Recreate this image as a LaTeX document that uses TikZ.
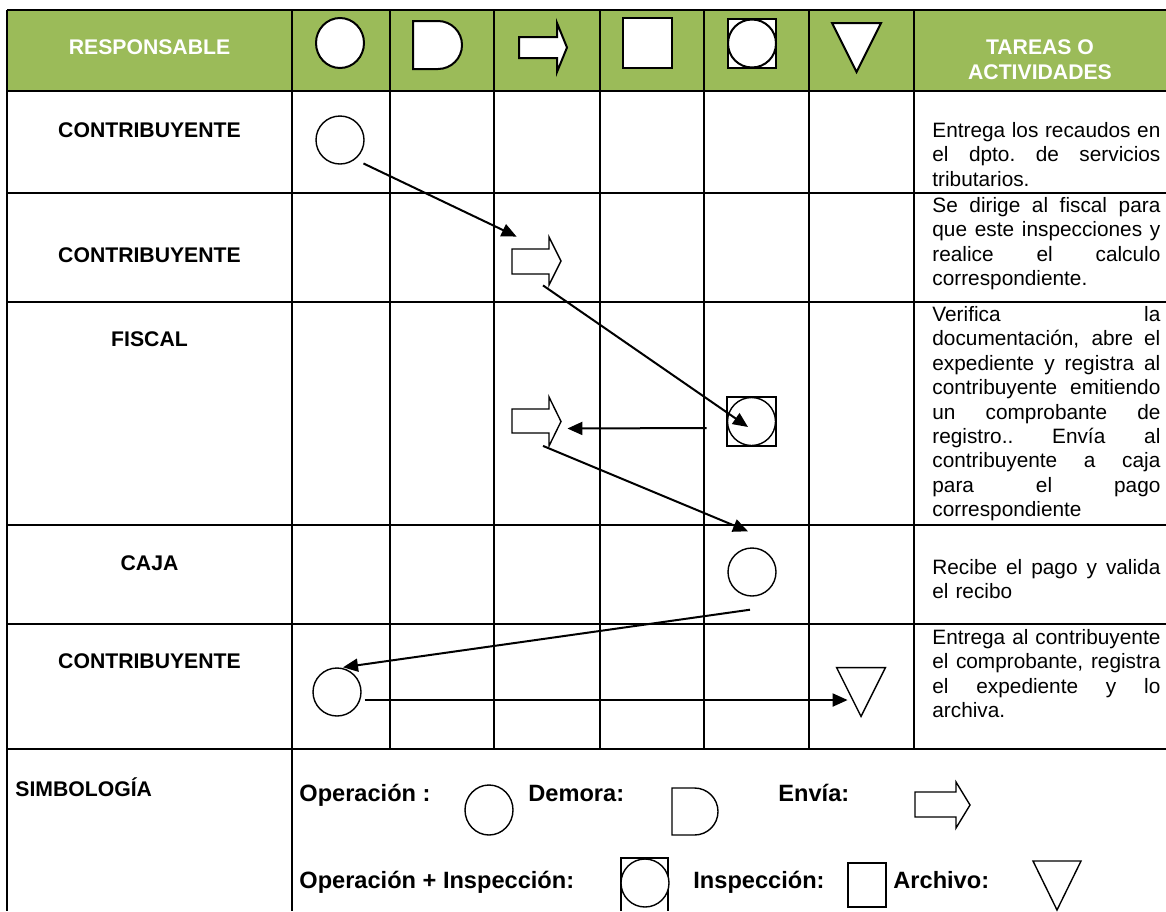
\documentclass[tikz,border=0pt]{standalone}
\usepackage{fontspec}
\setmainfont{Liberation Sans}
\usetikzlibrary{arrows.meta}
\definecolor{verdecab}{HTML}{9BBB59}
% justified line of a task cell
\newcommand{\renglon}[1]{\leavevmode\hbox to 114pt{\spaceskip=0.278em plus 1fil\relax\xspaceskip=\spaceskip #1}}

\begin{document}
\begin{tikzpicture}[x=0.5pt,y=-0.5pt,
  linea/.style={line width=1pt},
  simbolo/.style={line width=0.7pt,fill=white},
  opcirc/.style={circle,draw,line width=0.7pt,fill=white,minimum size=24pt,inner sep=0pt},
  hueco/.style={inner sep=0pt,minimum width=24.5pt,minimum height=24pt},
  flecha/.style={line width=1pt,-{Triangle[length=7.5pt,width=6.5pt]}},
  resp/.style={inner sep=0pt,font=\bfseries\fontsize{10.6}{12.5}\selectfont},
  tarea/.style={anchor=north west,inner sep=0pt,text width=114pt,align=left,font=\fontsize{10.4}{12.2}\selectfont},
  leyenda/.style={anchor=base west,inner sep=0pt,font=\bfseries\fontsize{11.8}{14}\selectfont}]
\useasboundingbox (0,0) rectangle (1166,911);

% Cabecera
\fill[verdecab] (7,10) rectangle (1166,91);

% Tabla
\draw[linea] (7,10) -- (1166,10);
\draw[linea] (7,91) -- (1166,91);
\draw[linea] (7,193) -- (1166,193);
\draw[linea] (7,302) -- (1166,302);
\draw[linea] (7,525) -- (1166,525);
\draw[linea] (7,624) -- (1166,624);
\draw[linea] (7,749) -- (1166,749);
\draw[linea] (7,10) -- (7,911);
\draw[linea] (292,10) -- (292,911);
\draw[linea] (390,10) -- (390,749);
\draw[linea] (494,10) -- (494,749);
\draw[linea] (600,10) -- (600,749);
\draw[linea] (704,10) -- (704,749);
\draw[linea] (809,10) -- (809,749);
\draw[linea] (914,10) -- (914,749);

\node[resp,text=white] (hresp) at (149.5,47) {RESPONSABLE};
\node[resp,text=white,align=center] (htareas) at (1040,59.5) {TAREAS O\\ACTIVIDADES};

% Simbolos de la cabecera
\draw[simbolo,line width=1pt] (340,43) ellipse (12pt and 12.5pt);
\draw[simbolo,line width=1pt] (413,21) -- (438,21) arc[start angle=90,end angle=-90,radius=12pt] -- (413,69) -- cycle;
\draw[simbolo,line width=1pt] (519,37) -- (557,37) -- (557,23) -- (567,47.5) -- (557,72) -- (557,58) -- (519,58) -- cycle;
\draw[simbolo,line width=1pt] (623,18) rectangle (672,68);
\draw[simbolo,line width=1pt] (728,19) rectangle (776,68);
\draw[simbolo,line width=1pt] (752,43.5) circle (12pt);
\draw[simbolo,line width=1pt] (832,23) -- (881,23) -- (856.5,72) -- cycle;

% Responsables
\node[resp] (r1) at (149.5,130) {CONTRIBUYENTE};
\node[resp] (r2) at (149.5,255) {CONTRIBUYENTE};
\node[resp] (r3) at (149.5,339) {FISCAL};
\node[resp] (r4) at (149.5,563) {CAJA};
\node[resp] (r5) at (149.5,661) {CONTRIBUYENTE};
\node[resp,anchor=base west] (simb) at (15,796) {SIMBOLOGÍA};

% Recorrido
\node[opcirc] (op1) at (340,140) {};
\node[hueco] (send1) at (536.5,261) {};
\draw[simbolo] (512,249) -- (549,249) -- (549,237) -- (561,261) -- (549,285) -- (549,274) -- (512,274) -- cycle;
\node[hueco,minimum height=24.5pt] (opinsp) at (751.5,421.5) {};
\draw[simbolo] (727,397) rectangle (776,446);
\draw[simbolo] (opinsp.center) circle (12pt);
\node[hueco] (send2) at (536.5,421.5) {};
\draw[simbolo] (512,409) -- (549,409) -- (549,397) -- (561,421.5) -- (549,446) -- (549,433) -- (512,433) -- cycle;
\node[opcirc] (op2) at (752,572) {};
\node[opcirc] (op3) at (337,692) {};
\node[hueco,minimum width=24pt] (arch) at (861,692) {};
\draw[simbolo] (arch.north west) -- (arch.north east) -- (arch.south) -- cycle;

% Flechas
\draw[flecha] ([shift={(3pt,-3pt)}]op1.south east) -- ([xshift=2.5pt]send1.north west);
\draw[flecha] ([xshift=3.25pt]send1.south) -- ([shift={(-1.75pt,-2.75pt)}]opinsp.center);
\draw[flecha] ([shift={(-10pt,-3.25pt)}]opinsp.west) -- ([shift={(3pt,-3.5pt)}]send2.east);
\draw[flecha] ([xshift=3.25pt]send2.south) -- ([shift={(-2pt,8pt)}]op2.north);
\draw[flecha] ([shift={(-1pt,-6.5pt)}]op2.south) -- ([xshift=3pt]op3.north);
\draw[flecha] ([shift={(1.5pt,-4pt)}]op3.east) -- ([shift={(5.5pt,-4pt)}]arch.west);

% Tareas o actividades
\node[tarea] (t1) at (932,122) {\renglon{Entrega los recaudos en}\\ \renglon{el dpto. de servicios}\\ tributarios.};
\node[tarea] (t2) at (932,197) {\renglon{Se dirige al fiscal para}\\ \renglon{que este inspecciones y}\\ \renglon{realice el calculo}\\ correspondiente.};
\node[tarea] (t3) at (932,306) {\renglon{Verifica la}\\ \renglon{documentación, abre el}\\ \renglon{expediente y registra al}\\ \renglon{contribuyente emitiendo}\\ \renglon{un comprobante de}\\ \renglon{registro.. Envía al}\\ \renglon{contribuyente a caja}\\ \renglon{para el pago}\\ correspondiente};
\node[tarea] (t4) at (932,559) {\renglon{Recibe el pago y valida}\\ el recibo};
\node[tarea] (t5) at (932,629) {\renglon{Entrega al contribuyente}\\ \renglon{el comprobante, registra}\\ \renglon{el expediente y lo}\\ archiva.};

% Simbologia
\node[leyenda] (lop) at (299,801) {Operación :};
\draw[simbolo] (489,810) ellipse (12pt and 12.5pt);
\node[leyenda] (ldem) at (528,801) {Demora:};
\draw[simbolo] (672,788) -- (694.5,788) arc[start angle=90,end angle=-90,radius=11.75pt] -- (672,835) -- cycle;
\node[leyenda] (lenv) at (778,801) {Envía:};
\draw[simbolo] (915,792) -- (956,792) -- (956,782) -- (970,805) -- (956,828) -- (956,817) -- (915,817) -- cycle;
\node[leyenda] (lopi) at (299,888) {Operación + Inspección:};
\draw[simbolo] (621,911) -- (621,858) -- (668,858) -- (668,911);
\draw[simbolo] (645,883) circle (12pt);
\node[leyenda] (lins) at (693,888) {Inspección:};
\draw[simbolo] (848,863) rectangle (886,907);
\node[leyenda] (larch) at (893,888) {Archivo:};
\draw[simbolo] (1033,861) -- (1081,861) -- (1057,910) -- cycle;

\end{tikzpicture}
\end{document}
